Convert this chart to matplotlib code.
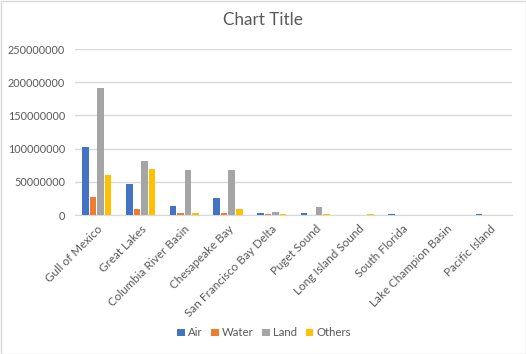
import matplotlib
matplotlib.use("Agg")
import matplotlib.pyplot as plt
import numpy as np

categories = ["Gull of Mexico", "Great Lakes", "Columbia River Basin", "Chesapeake Bay",
              "San Francisco Bay Delta", "Puget Sound", "Long Island Sound", "South Florida",
              "Lake Champion Basin", "Pacific Island"]
air = [102600000, 47300000, 14100000, 26200000, 3000000, 3000000, 0, 1000000, 0, 1000000]
water = [27700000, 9600000, 3500000, 3500000, 1000000, 0, 0, 0, 0, 0]
land = [192000000, 82000000, 68400000, 68400000, 4500000, 12000000, 0, 0, 0, 0]
others = [60900000, 70000000, 3500000, 9600000, 1000000, 1000000, 1000000, 0, 0, 0]
series_names = ["Air", "Water", "Land", "Others"]
colors = ["#4472C4", "#ED7D31", "#A5A5A5", "#FFC000"]
yticks = [0, 50000000, 100000000, 150000000, 200000000, 250000000]

plt.rcParams['font.family'] = ['Lato', 'DejaVu Sans']

W, H = 526, 354
fig = plt.figure(figsize=(W/100, H/100), dpi=100)
ax = fig.add_axes([75/W, 1-215/H, (512-75)/W, (215-49)/H])

x = np.arange(len(categories))
step = 0.172
width = 0.15
for i, (vals, name, c) in enumerate(zip([air, water, land, others], series_names, colors)):
    ax.bar(x + (i-1.5)*step, vals, width, color=c, label=name, zorder=3)

ax.set_xlim(-0.5, len(categories)-0.5)
ax.set_ylim(0, 250000000)
ax.set_yticks(yticks)
ax.set_yticklabels([str(v) for v in yticks], color="#595959", fontsize=7.8)
ax.yaxis.grid(True, color="#D9D9D9", linewidth=1, zorder=0)
ax.set_xticks(x)
ax.set_xticklabels(categories, rotation=45, ha="right", rotation_mode="anchor",
                   color="#595959", fontsize=8.4)
ax.tick_params(axis="x", length=0, pad=6)
ax.tick_params(axis="y", length=0, pad=7)
for s in ["top", "right", "left"]:
    ax.spines[s].set_visible(False)
ax.spines["bottom"].set_color("#D9D9D9")

fig.text(263/W, 1-20/H, "Chart Title", ha="center", va="center", fontsize=12.3, color="#595959")

leg = fig.legend(loc="center", bbox_to_anchor=(264/W, 1-333/H), ncol=4, frameon=False,
                 fontsize=8.2, handlelength=0.65, handleheight=0.65, handletextpad=0.25,
                 columnspacing=0.8, labelcolor="#595959")

fig.add_artist(plt.Rectangle((0.5/W, 0.5/H), 1-1/W, 1-1/H, transform=fig.transFigure,
                             fill=False, edgecolor="#D9D9D9", linewidth=1))

fig.savefig("out.png", dpi=100)
